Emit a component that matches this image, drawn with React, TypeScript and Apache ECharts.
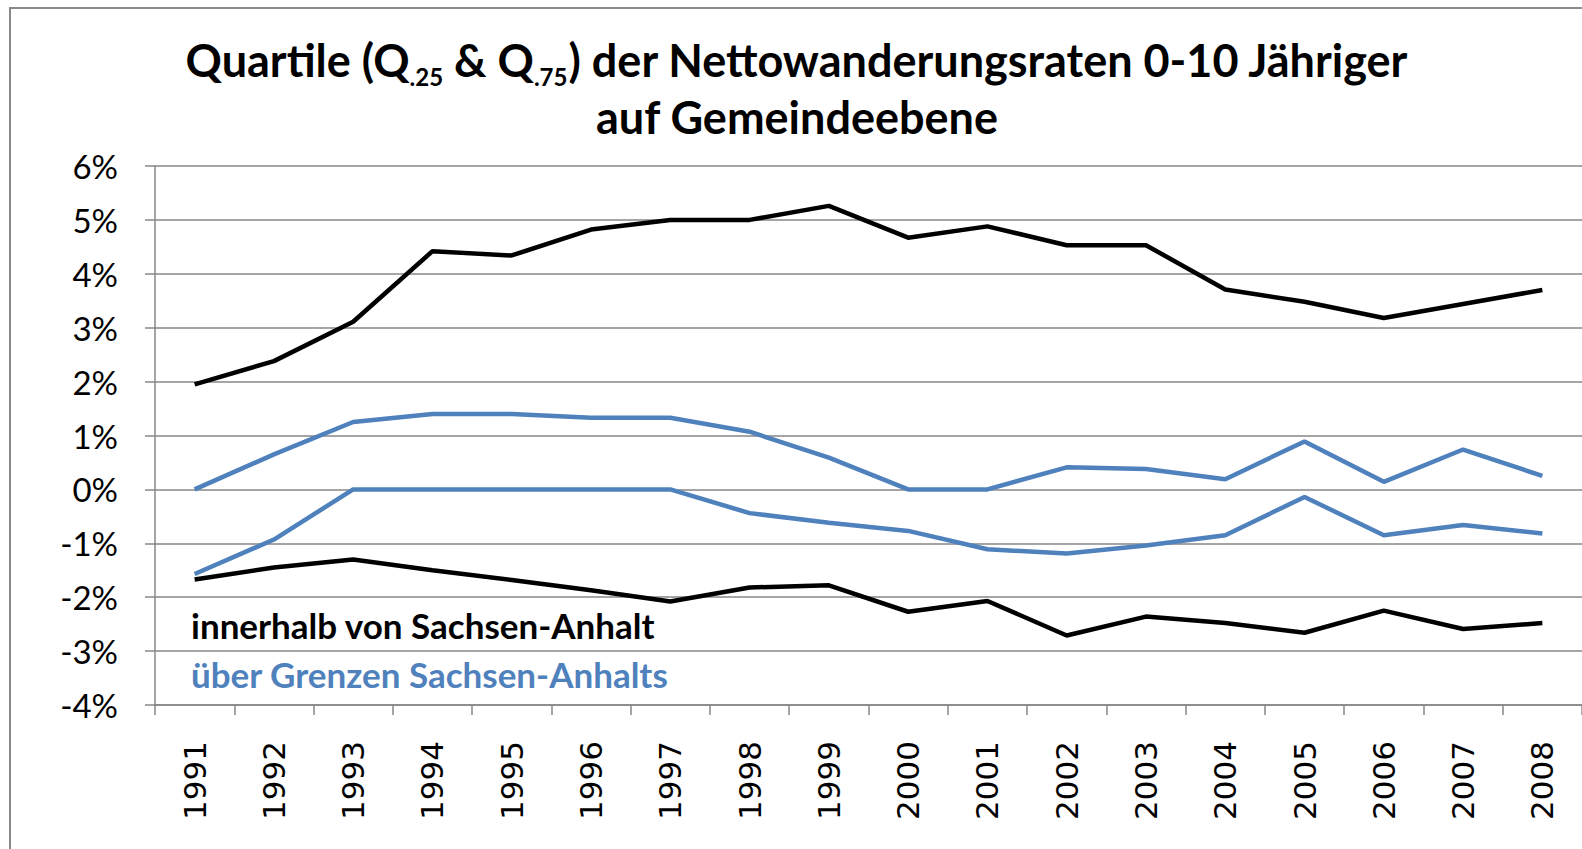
import React, { useEffect, useRef } from "react";
import * as echarts from "echarts";

const years = ["1991", "1992", "1993", "1994", "1995", "1996", "1997", "1998", "1999", "2000", "2001", "2002", "2003", "2004", "2005", "2006", "2007", "2008"];

// innerhalb von Sachsen-Anhalt (black)
const innerQ75 = [1.95, 2.38, 3.11, 4.42, 4.34, 4.82, 5.0, 5.0, 5.26, 4.67, 4.88, 4.53, 4.53, 3.71, 3.48, 3.18, 3.44, 3.7];
const innerQ25 = [-1.67, -1.45, -1.3, -1.5, -1.68, -1.87, -2.08, -1.82, -1.78, -2.27, -2.07, -2.71, -2.36, -2.48, -2.66, -2.25, -2.59, -2.48];

// über Grenzen Sachsen-Anhalts (blue)
const acrossQ75 = [0.0, 0.65, 1.25, 1.4, 1.4, 1.33, 1.33, 1.07, 0.59, 0.0, 0.0, 0.41, 0.38, 0.19, 0.89, 0.14, 0.74, 0.25];
const acrossQ25 = [-1.57, -0.93, 0.0, 0.0, 0.0, 0.0, 0.0, -0.44, -0.62, -0.77, -1.11, -1.19, -1.04, -0.85, -0.14, -0.85, -0.66, -0.82];

const yMin = -4;
const yMax = 6;
const yStep = 1;

const titleLine1 = "Quartile (Q{s|.25} & Q{s|.75}) der Nettowanderungsraten 0-10 Jähriger";
const titleLine2 = "auf Gemeindeebene";
const labelInner = "innerhalb von Sachsen-Anhalt";
const labelAcross = "über Grenzen Sachsen-Anhalts";

const BLACK = "#000000";
const BLUE = "#4F81BD";
const GRID = "#878787";

export default function App() {
  const ref = useRef<HTMLDivElement>(null);
  useEffect(() => {
    const chart = echarts.init(ref.current!, null, { renderer: "svg" });
    const lineSeries = (name: string, data: number[], color: string) => ({
      name,
      type: "line",
      data,
      symbol: "none",
      smooth: false,
      lineStyle: { color, width: 4.5 },
      itemStyle: { color },
      z: 3,
    });
    chart.setOption({
      animation: false,
      backgroundColor: "#ffffff",
      grid: { left: 155, right: -2, top: 166, bottom: 144, containLabel: false },
      xAxis: {
        type: "category",
        data: years,
        boundaryGap: true,
        axisLine: { show: true, onZero: false, lineStyle: { color: GRID, width: 1.5 } },
        axisTick: { show: true, length: 10, lineStyle: { color: GRID, width: 1.5 } },
        axisLabel: {
          rotate: 90,
          margin: 36,
          fontFamily: "DejaVu Sans",
          fontSize: 31,
          color: "#000",
        },
        splitLine: { show: false },
      },
      yAxis: {
        type: "value",
        min: yMin,
        max: yMax,
        interval: yStep,
        axisLine: { show: true, lineStyle: { color: GRID, width: 1.5 } },
        axisTick: { show: true, length: 10, lineStyle: { color: GRID, width: 1.5 } },
        axisLabel: {
          formatter: "{value}%",
          margin: 37,
          fontFamily: "Lato",
          fontSize: 33,
          color: "#000",
        },
        splitLine: { show: true, lineStyle: { color: GRID, width: 1.5 } },
      },
      series: [
        lineSeries("innerQ75", innerQ75, BLACK),
        lineSeries("innerQ25", innerQ25, BLACK),
        lineSeries("acrossQ75", acrossQ75, BLUE),
        lineSeries("acrossQ25", acrossQ25, BLUE),
      ],
      graphic: [
        {
          type: "rect",
          shape: { x: 10, y: 8, width: 1620, height: 900 },
          style: { fill: "none", stroke: "#8a8a8a", lineWidth: 2 },
          silent: true,
        },
        {
          type: "text",
          x: 797,
          y: 31,
          style: {
            text: titleLine1 + "\n" + titleLine2,
            align: "center",
            verticalAlign: "top",
            fontFamily: "Lato",
            fontWeight: "bold",
            fontSize: 45,
            lineHeight: 57,
            fill: "#000",
            rich: {
              s: {
                fontFamily: "Lato",
                fontWeight: "bold",
                fontSize: 24,
                lineHeight: 32,
                verticalAlign: "bottom",
                fill: "#000",
              },
            },
          },
        },
        {
          type: "text",
          x: 191,
          y: 625,
          style: {
            text: labelInner,
            align: "left",
            verticalAlign: "middle",
            fontFamily: "Lato",
            fontWeight: "bold",
            fontSize: 35,
            fill: BLACK,
          },
        },
        {
          type: "text",
          x: 191,
          y: 674,
          style: {
            text: labelAcross,
            align: "left",
            verticalAlign: "middle",
            fontFamily: "Lato",
            fontWeight: "bold",
            fontSize: 35,
            fill: BLUE,
          },
        },
      ],
    });
    return () => chart.dispose();
  }, []);
  return (
    <div
      ref={ref}
      style={{ position: "fixed", left: 0, top: 0, width: 1582, height: 849, background: "#fff" }}
    />
  );
}
